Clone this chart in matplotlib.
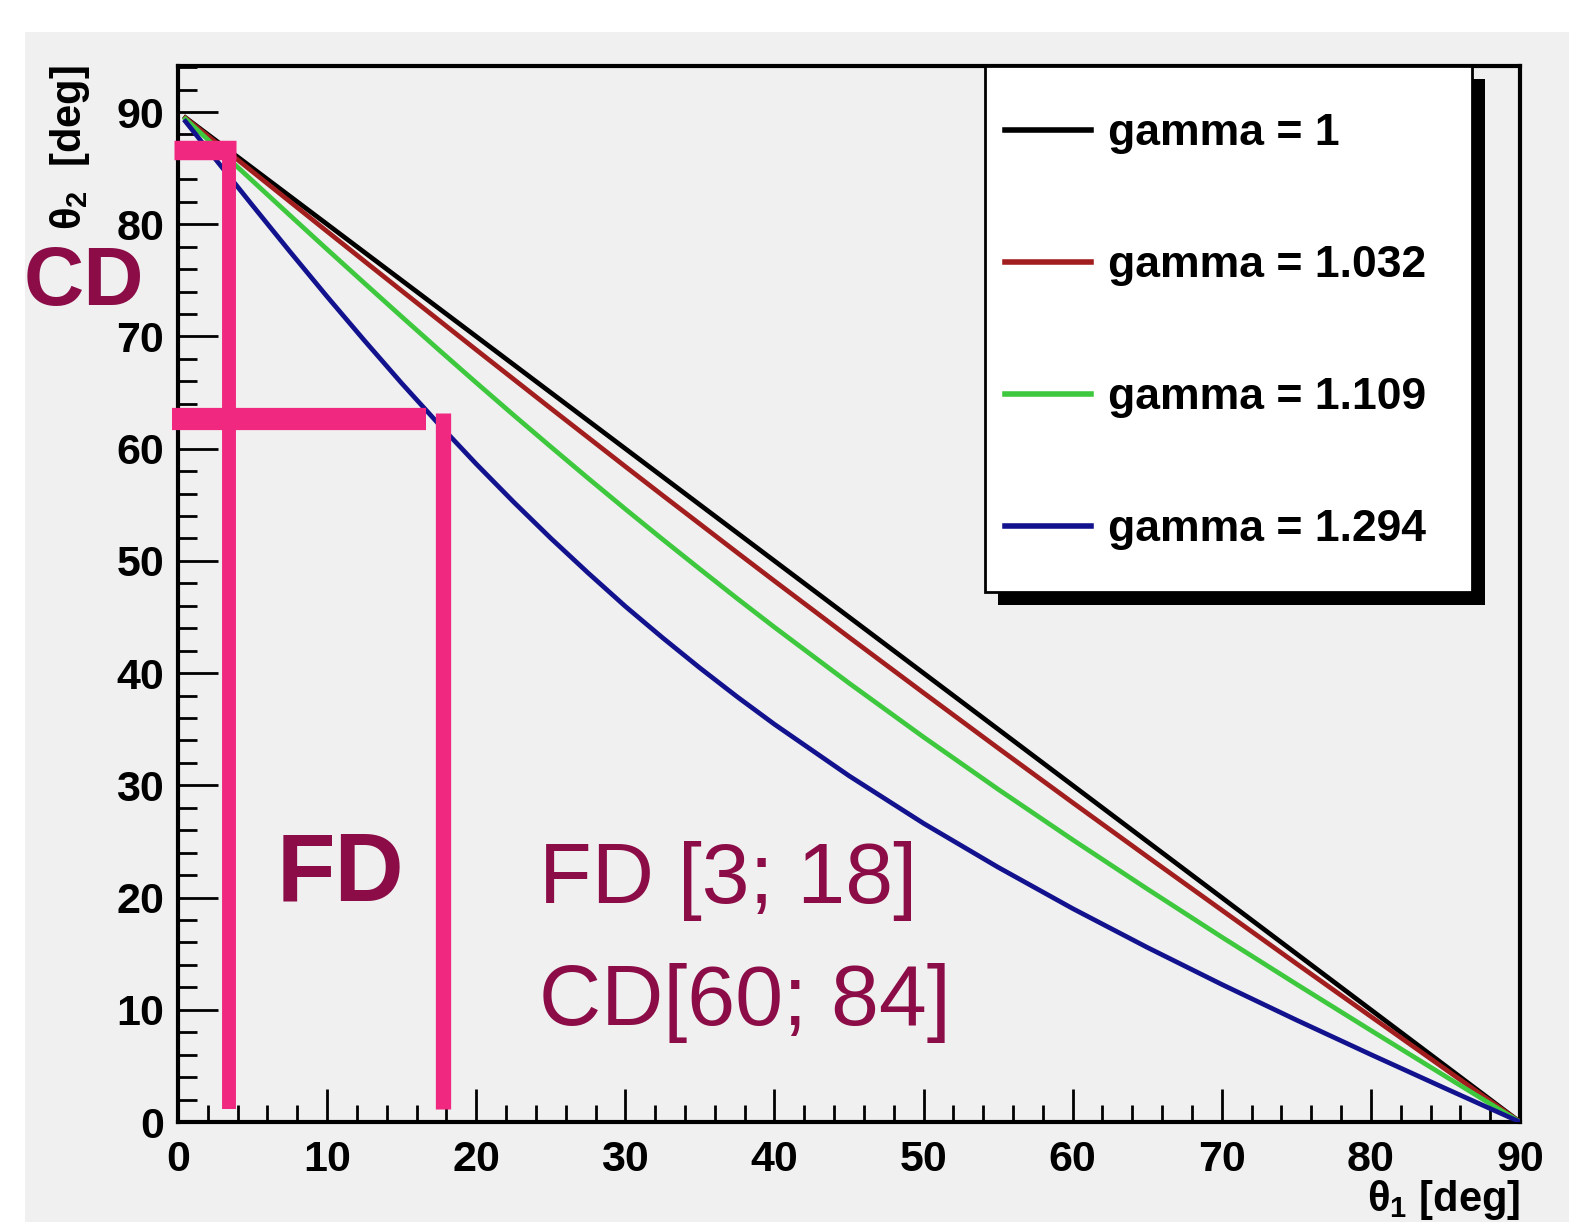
import matplotlib
matplotlib.use('Agg')
import matplotlib.pyplot as plt
from matplotlib import font_manager
from matplotlib.patches import Rectangle
from matplotlib.ticker import MultipleLocator

# theta1 [deg] sample points
theta1 = [0.5, 1, 2, 3, 5, 7.5, 10, 12.5, 15, 17.5, 20, 22.5, 25, 27.5, 30, 32.5, 35, 37.5,
          40, 45, 50, 55, 60, 65, 70, 75, 80, 85, 90]

# theta2 [deg] for each gamma
theta2_g1 = [89.5, 89.0, 88.0, 87.0, 85.0, 82.5, 80.0, 77.5, 75.0, 72.5, 70.0, 67.5, 65.0, 62.5,
             60.0, 57.5, 55.0, 52.5, 50.0, 45.0, 40.0, 35.0, 30.0, 25.0, 20.0, 15.0, 10.0, 5.0, 0.0]
theta2_g1032 = [89.47, 88.93, 87.87, 86.81, 84.68, 82.02, 79.36, 76.71, 74.07, 71.44, 68.81, 66.20,
                63.59, 61.00, 58.41, 55.84, 53.29, 50.74, 48.21, 43.20, 38.24, 33.32, 28.46, 23.65,
                18.88, 14.12, 9.40, 4.70, 0.0]
theta2_g1109 = [89.39, 88.77, 87.54, 86.31, 83.86, 80.80, 77.76, 74.75, 71.76, 68.80, 65.88, 63.00,
                60.17, 57.37, 54.62, 51.92, 49.27, 46.65, 44.09, 39.11, 34.30, 29.65, 25.15, 20.77,
                16.48, 12.29, 8.16, 4.07, 0.0]
theta2_g1294 = [89.16, 88.33, 86.65, 84.99, 81.67, 77.57, 73.55, 69.64, 65.83, 62.17, 58.64, 55.26,
                52.02, 48.93, 45.95, 43.15, 40.46, 37.89, 35.44, 30.85, 26.61, 22.70, 19.02, 15.56,
                12.26, 9.09, 6.01, 2.99, 0.0]

labels = ['gamma = 1', 'gamma = 1.032', 'gamma = 1.109', 'gamma = 1.294']
colors = ['#000000', '#a21e1e', '#3ec83e', '#12128e']

# pink marker lines (FD / CD ranges)
cd_top_x = [-0.3, 3.9]
cd_top_y = [86.6, 86.6]
fd_left_x = [3.4, 3.4]
fd_left_y = [1.2, 87.2]
cd_low_x = [-0.4, 16.6]
cd_low_y = [62.6, 62.6]
fd_right_x = [17.8, 17.8]
fd_right_y = [1.2, 63.2]

names = {f.name for f in font_manager.fontManager.ttflist}
narrow = 'Liberation Sans Narrow' if 'Liberation Sans Narrow' in names else 'Liberation Sans'
plt.rcParams['font.family'] = [narrow, 'DejaVu Sans']
plt.rcParams['mathtext.default'] = 'regular'

W, H = 1569, 1222
fig = plt.figure(figsize=(W / 100, H / 100), dpi=100)
fig.patch.set_facecolor('white')
grey = '#f0f0f0'
fig.patches.append(Rectangle((25 / W, 0), 1, 1 - 32 / H, transform=fig.transFigure,
                             facecolor=grey, edgecolor='none', zorder=-10))

ax = fig.add_axes([178 / W, 1 - 1122 / H, (1520 - 178) / W, (1122 - 66) / H])
ax.set_facecolor(grey)

series = [theta2_g1, theta2_g1032, theta2_g1109, theta2_g1294]
for ys, lab, c in zip(series, labels, colors):
    ax.plot(theta1, ys, color=c, lw=3.4, label=lab, zorder=3)

pink = '#f0287f'
ax.plot(fd_left_x, fd_left_y, color=pink, lw=10, solid_capstyle='butt', zorder=4, clip_on=False)
ax.plot(fd_right_x, fd_right_y, color=pink, lw=11, solid_capstyle='butt', zorder=4, clip_on=False)
ax.plot(cd_top_x, cd_top_y, color=pink, lw=14, solid_capstyle='butt', zorder=4, clip_on=False)
ax.plot(cd_low_x, cd_low_y, color=pink, lw=16, solid_capstyle='butt', zorder=4, clip_on=False)

ax.set_xlim(0, 90)
ax.set_ylim(0, 94.1)
ax.xaxis.set_major_locator(MultipleLocator(10))
ax.xaxis.set_minor_locator(MultipleLocator(2))
ax.yaxis.set_major_locator(MultipleLocator(10))
ax.yaxis.set_minor_locator(MultipleLocator(2))
for s in ax.spines.values():
    s.set_linewidth(3)
ax.tick_params(axis='both', which='both', direction='in', top=False, right=False, width=2)
ax.tick_params(axis='y', which='major', length=29, pad=10)
ax.tick_params(axis='y', which='minor', length=14)
ax.tick_params(axis='x', which='major', length=24, pad=13)
ax.tick_params(axis='x', which='minor', length=12)
for lab in ax.get_xticklabels() + ax.get_yticklabels():
    lab.set_fontsize(31)
    lab.set_fontweight('bold')

dark = '#8b0c47'
ax.text(6.6, 19.7, 'FD', color=dark, fontsize=69, fontweight='bold', ha='left', va='baseline', zorder=5)
ax.text(24.2, 19.5, 'FD [3; 18]', color=dark, fontsize=62, ha='left', va='baseline', zorder=5)
ax.text(24.2, 8.6, 'CD[60; 84]', color=dark, fontsize=62, ha='left', va='baseline', zorder=5)
fig.text(24 / W, 1 - 305 / H, 'CD', color=dark, fontsize=60, fontweight='bold',
         ha='left', va='baseline', zorder=6)

fig.text(70 / W, 1 - 65 / H, r'θ$_2$  [deg]', rotation=90, fontsize=30, fontweight='bold',
         ha='center', va='top')
fig.text(1520 / W, 1 - 1200 / H, r'θ$_1$ [deg]', fontsize=30, fontweight='bold',
         ha='right', va='center')

# legend box with hard black shadow
bx0, by0, bx1, by1 = 985, 66, 1472, 592
ax.add_patch(Rectangle(((bx0 + 13) / W, 1 - (by1 + 13) / H), (bx1 - bx0) / W, (by1 - by0) / H,
                       transform=fig.transFigure, facecolor='black', edgecolor='none',
                       zorder=6, clip_on=False))
ax.add_patch(Rectangle((bx0 / W, 1 - by1 / H), (bx1 - bx0) / W, (by1 - by0) / H,
                       transform=fig.transFigure, facecolor='white', edgecolor='black',
                       lw=2, zorder=7, clip_on=False))
leg = ax.legend(loc='upper left', bbox_to_anchor=(958 / W, 1 - 66 / H),
                bbox_transform=fig.transFigure, frameon=False, borderaxespad=0,
                borderpad=1.06, handlelength=1.93, handletextpad=0.39, labelspacing=2.05,
                prop={'family': [narrow, 'DejaVu Sans'], 'weight': 'bold', 'size': 32})
leg.set_zorder(8)
for h in leg.get_lines():
    h.set_linewidth(4)

fig.savefig('out.png', dpi=100, facecolor=fig.get_facecolor())
